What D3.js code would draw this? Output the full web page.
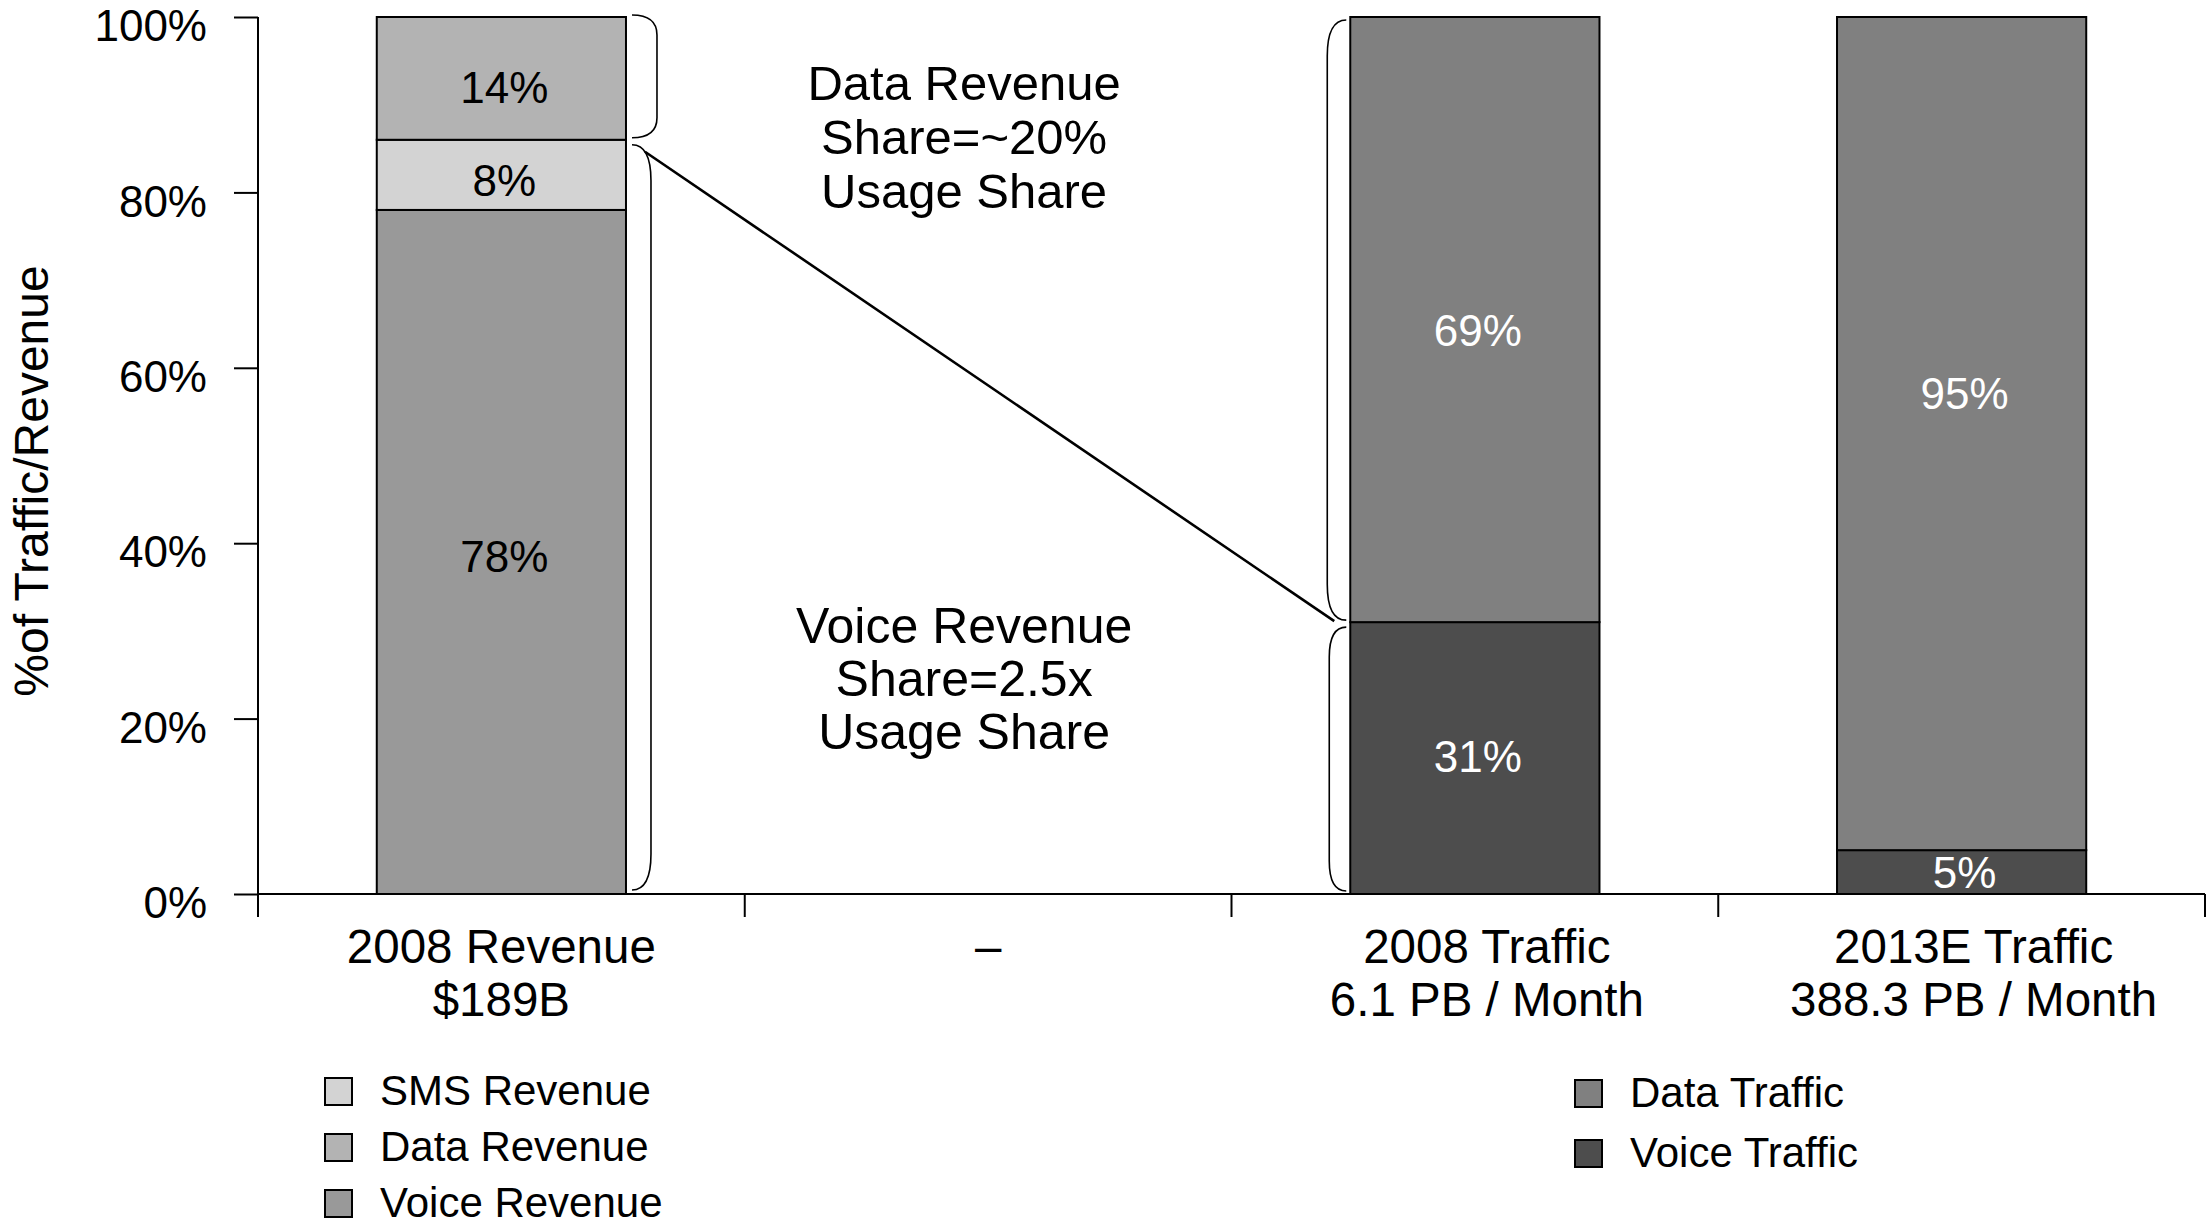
<!DOCTYPE html>
<html>
<head>
<meta charset="utf-8">
<script src="https://cdnjs.cloudflare.com/ajax/libs/d3/7.8.5/d3.min.js"></script>
<style>
  html, body { margin: 0; padding: 0; background: #ffffff; }
  svg { display: block; font-family: "Liberation Sans", Arial, sans-serif; }
</style>
</head>
<body>
<svg id="chart" width="2209" height="1226"></svg>
<script>
// ---------- data ----------
const categories   = ["2008 Revenue", "–", "2008 Traffic", "2013E Traffic"];
const categorySub  = ["$189B", "", "6.1 PB / Month", "388.3 PB / Month"];
const yTicks       = [0, 20, 40, 60, 80, 100];

const seriesKeys   = ["Voice Revenue", "SMS Revenue", "Data Revenue", "Voice Traffic", "Data Traffic"];
const voiceRevenue = [78, 0, 0, 0];
const smsRevenue   = [8, 0, 0, 0];
const dataRevenue  = [14, 0, 0, 0];
const voiceTraffic = [0, 0, 31, 5];
const dataTraffic  = [0, 0, 69, 95];
// where each value label sits (in % of the axis)
const voiceRevenueLabelAt = [38.5, null, null, null];
const smsRevenueLabelAt   = [81.4, null, null, null];
const dataRevenueLabelAt  = [92.0, null, null, null];
const voiceTrafficLabelAt = [null, null, 15.7, 2.4];
const dataTrafficLabelAt  = [null, null, 64.2, 57.1];

const seriesColors = ["#999999", "#d3d3d3", "#b3b3b3", "#4d4d4d", "#808080"];
const labelColors  = ["#000", "#000", "#000", "#fff", "#fff"];

const legendLeft  = ["SMS Revenue", "Data Revenue", "Voice Revenue"];
const legendRight = ["Data Traffic", "Voice Traffic"];

// ---------- build ----------
const seriesVals = [voiceRevenue, smsRevenue, dataRevenue, voiceTraffic, dataTraffic];
const seriesLabelAt = [voiceRevenueLabelAt, smsRevenueLabelAt, dataRevenueLabelAt, voiceTrafficLabelAt, dataTrafficLabelAt];
const table = categories.map((c, i) => {
  const row = { cat: c };
  seriesKeys.forEach((k, j) => row[k] = seriesVals[j][i]);
  return row;
});
const stacked = d3.stack().keys(seriesKeys)(table);
const colorOf = d3.scaleOrdinal(seriesKeys, seriesColors);

const svg = d3.select("#chart");
const x = d3.scaleBand(categories, [258, 2205]).padding(0);
const y = d3.scaleLinear([0, 100], [894, 17]);
const barW = x.bandwidth() * 0.512;
const barX = c => x(c) + (x.bandwidth() - barW) / 2;

// bars
const g = svg.append("g");
stacked.forEach((s, j) => {
  g.selectAll(null).data(s.filter(d => d[1] - d[0] > 0)).join("rect")
    .attr("x", d => barX(d.data.cat))
    .attr("y", d => y(d[1]))
    .attr("width", barW)
    .attr("height", d => y(d[0]) - y(d[1]))
    .attr("fill", colorOf(s.key))
    .attr("stroke", "#000")
    .attr("stroke-width", 2);
});

// value labels
stacked.forEach((s, j) => {
  s.forEach((d, i) => {
    const v = d[1] - d[0];
    if (v <= 0) return;
    const at = seriesLabelAt[j][i] != null ? seriesLabelAt[j][i] : (d[0] + d[1]) / 2;
    svg.append("text")
      .attr("x", x(d.data.cat) + x.bandwidth() / 2 + 3)
      .attr("y", y(at))
      .attr("dy", "0.35em")
      .attr("text-anchor", "middle")
      .attr("font-size", 44)
      .attr("fill", labelColors[j])
      .text(v + "%");
  });
});

// y axis
const yAxis = d3.axisLeft(y).tickValues(yTicks).tickFormat(d => d + "%")
  .tickSize(24).tickSizeOuter(0).tickPadding(27);
const yg = svg.append("g").attr("transform", "translate(258,0)").call(yAxis);
yg.select(".domain").remove();
yg.selectAll(".tick line").attr("stroke", "#000").attr("stroke-width", 2);
yg.selectAll(".tick text").attr("font-size", 44).attr("fill", "#000")
  .attr("font-family", "'Liberation Sans', Arial, sans-serif").attr("dy", "0.54em");
svg.append("line").attr("x1", 258).attr("x2", 258).attr("y1", y(100)).attr("y2", y(0) + 23)
  .attr("stroke", "#000").attr("stroke-width", 2);

// x axis
svg.append("line").attr("x1", 258).attr("x2", 2205).attr("y1", y(0)).attr("y2", y(0))
  .attr("stroke", "#000").attr("stroke-width", 2);
const bounds = categories.map(c => x(c) + x.bandwidth());
svg.selectAll(null).data(bounds).join("line")
  .attr("x1", d => d).attr("x2", d => d)
  .attr("y1", y(0)).attr("y2", y(0) + 23)
  .attr("stroke", "#000").attr("stroke-width", 2);
categories.forEach((c, i) => {
  const cx = x(c) + x.bandwidth() / 2 + (i >= 2 ? 12 : 0);
  svg.append("text").attr("x", cx).attr("y", 963).attr("text-anchor", "middle")
    .attr("font-size", 47.5).attr("fill", "#000").text(c);
  if (categorySub[i]) {
    svg.append("text").attr("x", cx).attr("y", 1016).attr("text-anchor", "middle")
      .attr("font-size", 47.5).attr("fill", "#000").text(categorySub[i]);
  }
});

// y title
svg.append("text")
  .attr("transform", "translate(48,481) rotate(-90)")
  .attr("text-anchor", "middle")
  .attr("font-size", 48)
  .attr("fill", "#000")
  .text("%of Traffic/Revenue");

// braces & connector
const bar1R = barX(categories[0]) + barW;
const bar3L = barX(categories[2]);
function bracket(xt, y0, y1, xv, r) {
  return `M${xt},${y0} Q${xv},${y0} ${xv},${y0 + r} L${xv},${y1 - r} Q${xv},${y1} ${xt},${y1}`;
}
const br = svg.append("g").attr("fill", "none").attr("stroke", "#000").attr("stroke-width", 1.6);
br.append("path").attr("d", bracket(bar1R + 6, y(100) - 2, y(86) - 2, bar1R + 31, 20));
br.append("path").attr("d", bracket(bar1R + 6, y(86) + 5, y(0) - 4, bar1R + 25, 36));
br.append("path").attr("d", bracket(bar3L - 4, y(100) + 3, y(31) - 2, bar3L - 23, 36));
br.append("path").attr("d", bracket(bar3L - 4, y(31) + 5, y(0) - 3, bar3L - 21, 30));
svg.append("line")
  .attr("x1", bar1R + 19).attr("y1", y(86) + 12)
  .attr("x2", bar3L - 16).attr("y2", y(31) - 1)
  .attr("stroke", "#000").attr("stroke-width", 2.6);

// annotations
const annX = x(categories[1]) + x.bandwidth() / 2 - 24;
const ann1 = ["Data Revenue", "Share=~20%", "Usage Share"];
const ann2 = ["Voice Revenue", "Share=2.5x", "Usage Share"];
ann1.forEach((t, i) => svg.append("text").attr("x", annX).attr("y", 100 + i * 54)
  .attr("text-anchor", "middle").attr("font-size", 49).attr("fill", "#000").text(t));
ann2.forEach((t, i) => svg.append("text").attr("x", annX).attr("y", 643 + i * 53)
  .attr("text-anchor", "middle").attr("font-size", 50).attr("fill", "#000").text(t));

// legends
function legend(items, x0, y0, step) {
  items.forEach((name, i) => {
    const by = y0 + i * step;
    svg.append("rect").attr("x", x0).attr("y", by - 27).attr("width", 27).attr("height", 27)
      .attr("fill", colorOf(name)).attr("stroke", "#000").attr("stroke-width", 2);
    svg.append("text").attr("x", x0 + 55).attr("y", by).attr("font-size", 42)
      .attr("fill", "#000").text(name);
  });
}
legend(legendLeft, 325, 1105, 56);
legend(legendRight, 1575, 1107, 60);
</script>
</body>
</html>
